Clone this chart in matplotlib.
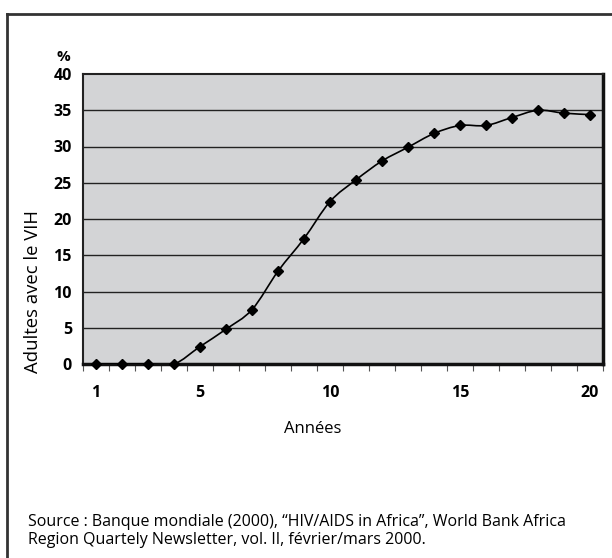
import numpy as np
import matplotlib
matplotlib.use("Agg")
import matplotlib.pyplot as plt
from matplotlib.path import Path
from matplotlib.patches import PathPatch
from matplotlib.lines import Line2D

plt.rcParams['font.family'] = ['Open Sans', 'DejaVu Sans']

# data
annees = list(range(1, 21))
adultes_vih = [0, 0, 0, 0, 2.4, 4.8, 7.5, 12.8, 17.3, 22.4, 25.4, 28.0, 29.9, 31.8,
               32.9, 32.9, 34.0, 35.0, 34.6, 34.4]
xtick_labels = ['1', '5', '10', '15', '20']
ytick_values = [0, 5, 10, 15, 20, 25, 30, 35, 40]

source_txt = ("Source : Banque mondiale (2000), \u201cHIV/AIDS in Africa\u201d, World Bank Africa\n"
              "Region Quartely Newsletter, vol. II, f\u00e9vrier/mars 2000.")


def smooth_path(x, y):
    # Excel-like smoothed line: Catmull-Rom segments as cubic Bezier curves
    pts = np.column_stack([x, y]).astype(float)
    n = len(pts)
    verts = [pts[0]]
    codes = [Path.MOVETO]
    for i in range(n - 1):
        p0 = pts[i - 1] if i > 0 else pts[i]
        p1 = pts[i]
        p2 = pts[i + 1]
        p3 = pts[i + 2] if i + 2 < n else pts[i + 1]
        c1 = p1 + (p2 - p0) / 6.0
        c2 = p2 - (p3 - p1) / 6.0
        verts += [c1, c2, p2]
        codes += [Path.CURVE4] * 3
    return Path(verts, codes)


fig = plt.figure(figsize=(6.12, 5.58), dpi=100)
ax = fig.add_axes([83 / 612, 1 - 364 / 558, 520 / 612, 290 / 558])
ax.set_facecolor('#d3d4d6')

# outer box lines
fig.add_artist(Line2D([7 / 612, 7 / 612], [0, 1 - 14 / 558], color='#333333', lw=2))
fig.add_artist(Line2D([7 / 612, 1], [1 - 14 / 558, 1 - 14 / 558], color='#333333', lw=2))

ax.set_xlim(0.5, 20.5)
ax.set_ylim(0, 40)

for v in ytick_values[1:-1]:
    ax.axhline(v, color='#222222', lw=1.0, zorder=1)

ax.add_patch(PathPatch(smooth_path(annees, adultes_vih), fill=False,
                       edgecolor='black', lw=1.2, zorder=3, transform=ax.transData))
ax.plot(annees, adultes_vih, linestyle='none', marker='D', markersize=5.5,
        color='black', zorder=4, clip_on=False)

# category boundaries carry the tick marks
ax.set_xticks(np.arange(0.5, 21, 1))
ax.set_xticklabels([])
ax.tick_params(axis='x', which='major', direction='out', length=5, width=0.8, color='#555555')
ax.set_xticks([int(t) for t in xtick_labels], minor=True)
ax.set_xticklabels(xtick_labels, minor=True, fontweight='bold', fontsize=11.5)
ax.tick_params(axis='x', which='minor', length=0, pad=15)

ax.set_yticks(ytick_values)
ax.set_yticklabels([str(v) for v in ytick_values], fontweight='bold', fontsize=11.5)
ax.tick_params(axis='y', length=0, pad=8)

for side in ['top', 'left']:
    ax.spines[side].set_linewidth(1.5)
    ax.spines[side].set_color('#222222')
for side in ['right', 'bottom']:
    ax.spines[side].set_linewidth(2.5)
    ax.spines[side].set_color('#111111')

ax.set_ylabel('Adultes avec le VIH', fontsize=13.3)
ax.yaxis.set_label_coords(-0.079, 0.25)
fig.text(313 / 612, 1 - 429 / 558, 'Ann\u00e9es', fontsize=12, ha='center', va='center')
fig.text(63 / 612, 1 - 57 / 558, '%', fontweight='bold', fontsize=11, ha='center', va='center')

fig.text(28 / 612, 1 - 531 / 558, source_txt, fontsize=11.5, ha='left', va='center',
         linespacing=1.25)

fig.savefig('out.png', dpi=100)
